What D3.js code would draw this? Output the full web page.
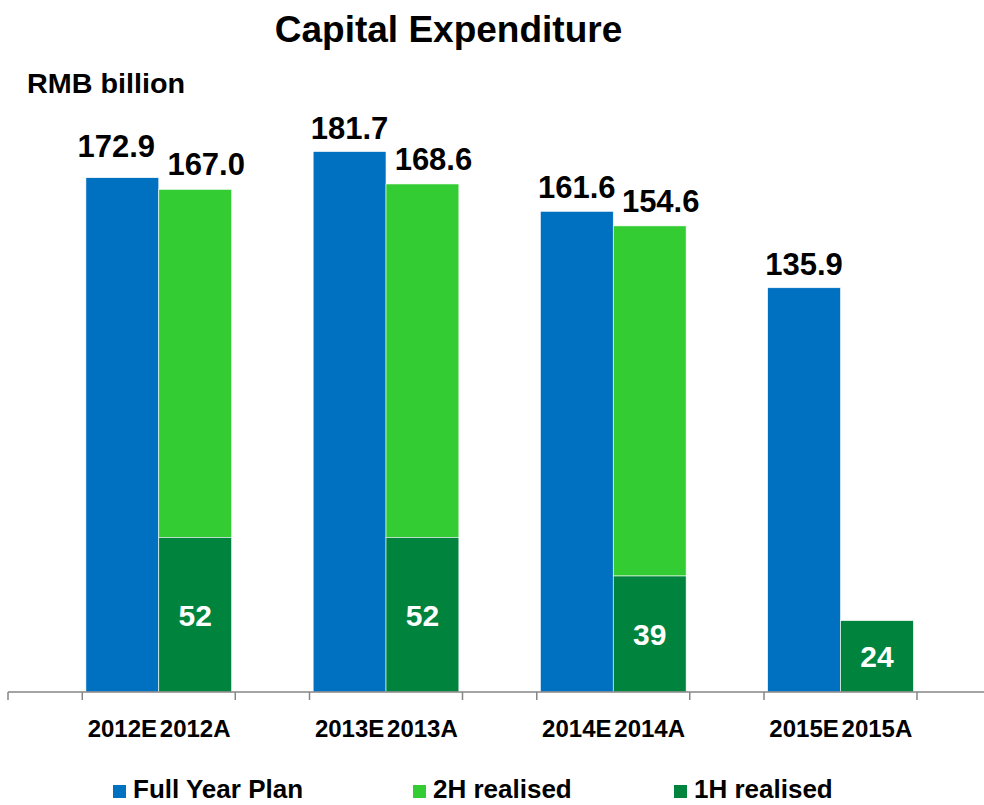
<!DOCTYPE html>
<html>
<head>
<meta charset="utf-8">
<script src="https://cdn.jsdelivr.net/npm/d3@7"></script>
<style>
  body { margin: 0; background: #fff; }
  text { font-family: "Liberation Sans", Arial, sans-serif; font-weight: bold; }
</style>
</head>
<body>
<div id="chart"></div>
<script>
// Chart data
var years = ["2012", "2013", "2014", "2015"];
var planLabels = ["2012E", "2013E", "2014E", "2015E"];
var actualLabels = ["2012A", "2013A", "2014A", "2015A"];
var fullYearPlan = [172.9, 181.7, 161.6, 135.9];
var firstHalf = [52, 52, 39, 24];
var secondHalf = [117.0, 118.8, 117.7, 0];
var actualTotalLabels = ["167.0", "168.6", "154.6", ""];
var seriesNames = ["Full Year Plan", "2H realised", "1H realised"];
var seriesColors = ["#0070C0", "#33CC33", "#00843D"];

// SVG area
var svgWidth = 984;
var svgHeight = 805;

var svg = d3.select("#chart")
  .append("svg")
  .attr("width", svgWidth)
  .attr("height", svgHeight);

// Scales
var baseY = 692;
var yScale = d3.scaleLinear()
  .domain([0, 200])
  .range([baseY, baseY - 200 * 2.9745]);

var xScale = d3.scaleBand()
  .domain(years)
  .range([8, 917])
  .paddingInner(0.3267)
  .paddingOuter(0.1634)
  .align(1);

var xSub = d3.scaleBand()
  .domain(["E", "A"])
  .range([0, xScale.bandwidth()])
  .paddingOuter(0.05);

// Title and unit
svg.append("text")
  .attr("x", 448.5)
  .attr("y", 42)
  .attr("text-anchor", "middle")
  .attr("font-size", 37)
  .text("Capital Expenditure");

svg.append("text")
  .attr("x", 27)
  .attr("y", 93)
  .attr("font-size", 28)
  .attr("textLength", 158)
  .attr("lengthAdjust", "spacingAndGlyphs")
  .text("RMB billion");

var chartGroup = svg.append("g");

// Full year plan bars
chartGroup.selectAll(".plan")
  .data(years)
  .enter()
  .append("rect")
  .attr("class", "plan")
  .attr("x", d => xScale(d) + xSub("E"))
  .attr("y", (d, i) => yScale(fullYearPlan[i]))
  .attr("width", xSub.bandwidth())
  .attr("height", (d, i) => baseY - yScale(fullYearPlan[i]))
  .attr("fill", seriesColors[0])
  .attr("stroke", "#fff")
  .attr("stroke-width", 0.6);

// 2H realised (stacked on 1H)
chartGroup.selectAll(".h2")
  .data(years.filter((d, i) => secondHalf[i] > 0))
  .enter()
  .append("rect")
  .attr("class", "h2")
  .attr("x", d => xScale(d) + xSub("A"))
  .attr("y", d => {
    var i = years.indexOf(d);
    return yScale(firstHalf[i] + secondHalf[i]);
  })
  .attr("width", xSub.bandwidth())
  .attr("height", d => {
    var i = years.indexOf(d);
    return yScale(firstHalf[i]) - yScale(firstHalf[i] + secondHalf[i]);
  })
  .attr("fill", seriesColors[1])
  .attr("stroke", "#fff")
  .attr("stroke-width", 0.6);

// 1H realised
chartGroup.selectAll(".h1")
  .data(years)
  .enter()
  .append("rect")
  .attr("class", "h1")
  .attr("x", d => xScale(d) + xSub("A"))
  .attr("y", (d, i) => yScale(firstHalf[i]))
  .attr("width", xSub.bandwidth())
  .attr("height", (d, i) => baseY - yScale(firstHalf[i]))
  .attr("fill", seriesColors[2])
  .attr("stroke", "#fff")
  .attr("stroke-width", 0.6);

// Value labels
chartGroup.selectAll(".planLabel")
  .data(years)
  .enter()
  .append("text")
  .attr("x", (d, i) => xScale(d) + xSub("E") + xSub.bandwidth() / 2 + (i === 0 ? -6 : 0))
  .attr("y", (d, i) => yScale(fullYearPlan[i]) - (i === 0 ? 21 : 13))
  .attr("text-anchor", "middle")
  .attr("font-size", 31)
  .text((d, i) => fullYearPlan[i].toFixed(1));

chartGroup.selectAll(".totalLabel")
  .data(years)
  .enter()
  .append("text")
  .attr("x", d => xScale(d) + xSub("A") + xSub.bandwidth() / 2 + 11)
  .attr("y", (d, i) => yScale(firstHalf[i] + secondHalf[i]) - 14)
  .attr("text-anchor", "middle")
  .attr("font-size", 31)
  .text((d, i) => actualTotalLabels[i]);

chartGroup.selectAll(".h1Label")
  .data(years)
  .enter()
  .append("text")
  .attr("x", d => xScale(d) + xSub("A") + xSub.bandwidth() / 2)
  .attr("y", (d, i) => (yScale(firstHalf[i]) + baseY) / 2 + 11)
  .attr("text-anchor", "middle")
  .attr("font-size", 30)
  .attr("fill", "#fff")
  .text((d, i) => firstHalf[i]);

// Axis line and ticks
var axisGroup = svg.append("g").attr("stroke", "#868686").attr("stroke-width", 1.5);
axisGroup.append("line")
  .attr("x1", 8).attr("x2", svgWidth)
  .attr("y1", baseY).attr("y2", baseY);

var tickXs = [xScale.range()[0]];
years.forEach(function (d) {
  tickXs.push(xScale(d));
  tickXs.push(xScale(d) + xScale.bandwidth());
});
axisGroup.selectAll(".tick")
  .data(tickXs)
  .enter()
  .append("line")
  .attr("x1", d => d).attr("x2", d => d)
  .attr("y1", baseY).attr("y2", baseY + 8);

// Category labels
years.forEach(function (d, i) {
  svg.append("text")
    .attr("x", xScale(d) + xSub("E") + xSub.bandwidth() / 2)
    .attr("y", 737)
    .attr("text-anchor", "middle")
    .attr("font-size", 24)
    .text(planLabels[i]);
  svg.append("text")
    .attr("x", xScale(d) + xSub("A") + xSub.bandwidth() / 2)
    .attr("y", 737)
    .attr("text-anchor", "middle")
    .attr("font-size", 24)
    .text(actualLabels[i]);
});

// Legend
var legendX = [113, 413, 674];
var legend = svg.selectAll(".legend")
  .data(seriesNames)
  .enter()
  .append("g")
  .attr("transform", (d, i) => `translate(${legendX[i]}, 785)`);

legend.append("rect")
  .attr("width", 13)
  .attr("height", 13)
  .attr("fill", (d, i) => seriesColors[i]);

legend.append("text")
  .attr("x", 20)
  .attr("y", 13)
  .attr("font-size", 26)
  .text(d => d);
</script>
</body>
</html>
